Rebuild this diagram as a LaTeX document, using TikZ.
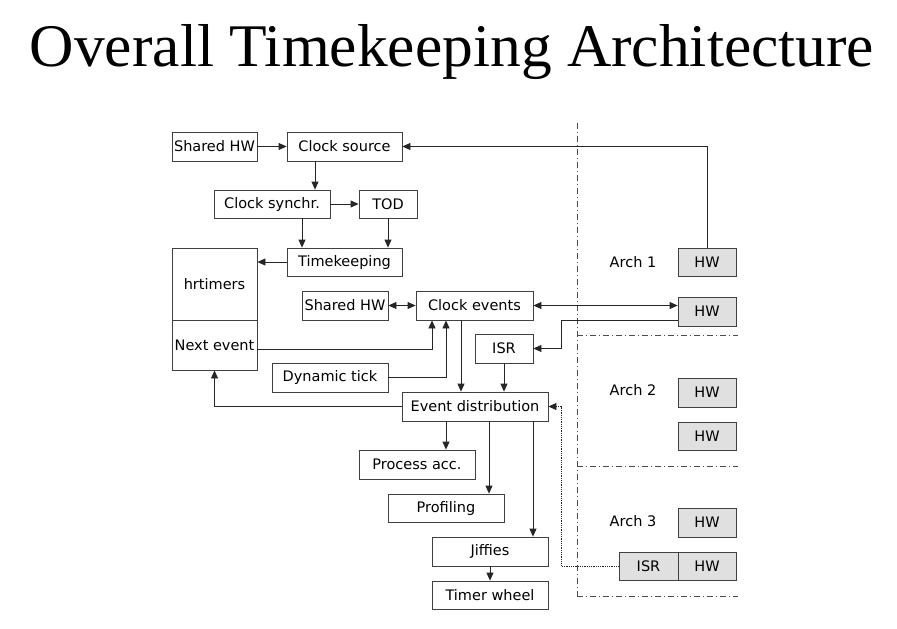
\documentclass[tikz,border=0pt]{standalone}
\usepackage{fontspec}
\setsansfont{DejaVu Sans}
\newfontfamily\titlefont{Liberation Serif}
\usetikzlibrary{positioning, arrows.meta}

\begin{document}
\begin{tikzpicture}[x=1pt, y=-1pt,
      box/.style={draw=black!75, line width=0.8pt, inner sep=0pt, minimum height=29pt,
                  font=\sffamily\fontsize{14.5}{16}\selectfont, align=center},
      hwbox/.style={box, fill=black!12, minimum width=58pt},
      arr/.style={-{Triangle[length=8pt, width=7pt]}, line width=0.8pt, draw=black!85},
      arrb/.style={{Triangle[length=8pt, width=7pt]}-{Triangle[length=8pt, width=7pt]}, line width=0.8pt, draw=black!85},
      archsep/.style={draw=black!70, line width=0.7pt, dash pattern=on 6pt off 3pt on 1pt off 3pt},
      archlbl/.style={font=\sffamily\fontsize{14.5}{16}\selectfont}]
      \useasboundingbox (0,0) rectangle (897,629);
      % title
      \node[anchor=base] (title) at (452,66)
        {\resizebox{844pt}{42pt}{\titlefont Overall Timekeeping Architecture}};
      % generic part
      \node[box, minimum width=85pt]  (shwa)  at (214.5,146.5) {Shared HW};
      \node[box, minimum width=115pt] (csrc)  at (344.5,146.5) {Clock source};
      \node[box, minimum width=116pt, minimum height=28pt] (csync) at (272,204) {Clock synchr.};
      \node[box, minimum width=58pt, minimum height=28pt]  (tod)   at (388,204) {TOD};
      \node[box, minimum width=115pt, minimum height=28pt] (tkeep) at (344.5,262) {Timekeeping};
      \node[box, minimum width=85pt, minimum height=72pt]  (hrt)   at (214.5,284) {hrtimers};
      \node[box, minimum width=85pt, minimum height=50pt]  (nxt)   at (214.5,345) {Next event};
      \node[box, minimum width=86pt]  (shwb)  at (345,305.5) {Shared HW};
      \node[box, minimum width=117pt] (cev)   at (474.5,305.5) {Clock events};
      \node[box, minimum width=58pt]  (isr)   at (504,348.5) {ISR};
      \node[box, minimum width=116pt] (dyn)   at (330,377.5) {Dynamic tick};
      \node[box, minimum width=146pt] (edist) at (475,406.5) {Event distribution};
      \node[box, minimum width=116pt] (pacc)  at (417,464.5) {Process acc.};
      \node[box, minimum width=116pt, minimum height=28pt] (prof) at (446,508) {Profiling};
      \node[box, minimum width=116pt] (jif)   at (490,551.5) {Jiffies};
      \node[box, minimum width=116pt, minimum height=28pt] (twh) at (490,595) {Timer wheel};
      % arch specific part
      \draw[archsep] (577,123) -- (577,597);
      \draw[archsep] (577,335) -- (738,335);
      \draw[archsep] (577,466) -- (738,466);
      \draw[archsep] (577,596) -- (738,596);
      \node[archlbl] (archa) at (633,262) {Arch 1};
      \node[archlbl] (archb) at (633,390) {Arch 2};
      \node[archlbl] (archc) at (633,521) {Arch 3};
      \node[hwbox, minimum height=28pt] (hwa) at (707,262) {HW};
      \node[hwbox] (hwb) at (707,311.5) {HW};
      \node[hwbox] (hwc) at (707,392.5) {HW};
      \node[hwbox, minimum height=28pt] (hwd) at (707,436) {HW};
      \node[hwbox] (hwe) at (707,522.5) {HW};
      \node[hwbox, minimum height=28pt] (hwf) at (707,566) {HW};
      \node[hwbox, minimum width=59pt, minimum height=28pt] (isrb) at (648.5,566) {ISR};
      % connectors
      \draw[arr] (shwa) -- (csrc);
      \draw[arr] (hwa.north) |- (csrc.east);
      \draw[arr] ([xshift=-29.5pt]csrc.south) -- ([xshift=43pt]csync.north);
      \draw[arr] (csync) -- (tod);
      \draw[arr] ([xshift=30pt]csync.south) -- ([xshift=-42.5pt]tkeep.north);
      \draw[arr] (tod) -- (tod |- tkeep.north);
      \draw[arr] (tkeep) -- (tkeep -| hrt.east);
      \draw[arrb] (shwb) -- (cev);
      \draw[arrb] (cev.east) -- (hwb.west |- cev.east);
      \draw[arr] ([yshift=-8.5pt]hwb.west) -- ++(-116,0) |- (isr.east);
      \draw[arr] ([yshift=-4pt]nxt.east) -| ([xshift=-42.5pt]cev.south);
      \draw[arr] (dyn.east) -| ([xshift=-28.5pt]cev.south);
      \draw[arr] ([xshift=-13.5pt]cev.south) -- ([xshift=-14pt]edist.north);
      \draw[arr] (isr) -- (isr |- edist.north);
      \draw[arr] (edist.west) -| (nxt.south);
      \draw[arr] ([xshift=-29pt]edist.south) -- ([xshift=29pt]pacc.north);
      \draw[arr] ([xshift=14pt]edist.south) -- ([xshift=43pt]prof.north);
      \draw[arr] ([xshift=58pt]edist.south) -- ([xshift=43pt]jif.north);
      \draw[arr] (jif) -- (twh);
      \draw[arr, densely dotted] (isrb.west) -- ++(-57,0) |- (edist.east);
    \end{tikzpicture}
\end{document}
